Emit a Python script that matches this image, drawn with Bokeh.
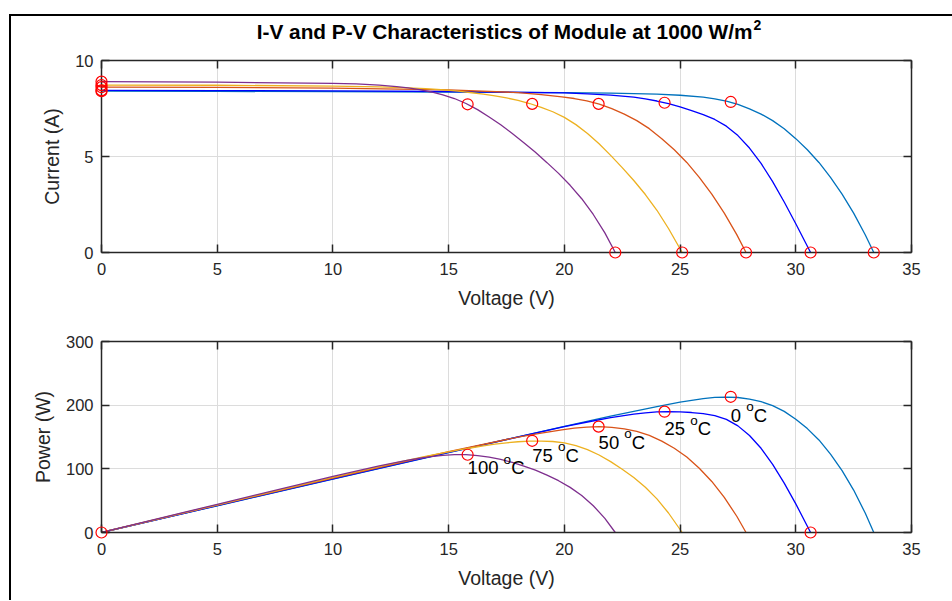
from bokeh.plotting import figure
from bokeh.models import Range1d, FixedTicker, LinearAxis, ColumnDataSource
from bokeh.layouts import column
from bokeh.embed import file_html
from bokeh.resources import INLINE
from bokeh.core.properties import value

# ---------------- data ----------------
temps = ["0", "25", "50", "75", "100"]
colors = ["#0072BD", "#0000FF", "#D95319", "#EDB120", "#7E2F8E"]

v_t0 = [0, 5, 10, 15, 20, 22, 24, 25, 26, 26.5, 27, 27.5, 28, 28.5, 29, 29.5, 30, 30.5,
        31, 31.5, 32, 32.5, 33, 33.37]
i_t0 = [8.40, 8.39, 8.38, 8.36, 8.33, 8.305, 8.245, 8.19, 8.09, 8.005, 7.88, 7.71, 7.48,
        7.21, 6.87, 6.45, 5.93, 5.35, 4.69, 3.91, 3.04, 2.05, 0.925, 0.0]

v_t25 = [0, 5, 10, 15, 20, 21, 22, 23, 23.5, 24, 24.5, 25, 25.5, 26, 26.5, 27, 27.5, 28,
         28.5, 29, 29.5, 30, 30.64]
i_t25 = [8.445, 8.435, 8.415, 8.385, 8.31, 8.265, 8.20, 8.09, 8.00, 7.89, 7.75, 7.58,
         7.39, 7.18, 6.93, 6.58, 6.09, 5.44, 4.64, 3.69, 2.63, 1.50, 0.0]

v_t50 = [0, 5, 10, 15, 18, 19, 19.89, 20.43, 20.97, 21.51, 22.05, 22.59, 23.13, 23.67,
         24.21, 24.75, 25.29, 25.83, 26.37, 26.91, 27.45, 27.85]
i_t50 = [8.61, 8.60, 8.56, 8.47, 8.33, 8.22, 8.11, 8.02, 7.90, 7.73, 7.49, 7.21, 6.87, 6.45,
         5.93, 5.35, 4.69, 3.91, 3.04, 2.05, 0.93, 0.0]

v_t75 = [0, 5, 10, 12, 13, 14, 15, 15.5, 16, 16.5, 17, 17.5, 18, 18.5, 19, 19.5, 20, 20.5,
         21, 21.5, 22, 22.5, 23, 23.5, 24, 24.5, 25.09]
i_t75 = [8.72, 8.71, 8.67, 8.63, 8.59, 8.53, 8.45, 8.39, 8.32, 8.25, 8.16, 8.05, 7.92, 7.76,
         7.56, 7.33, 7.04, 6.66, 6.20, 5.66, 5.06, 4.42, 3.75, 3.02, 2.20, 1.25, 0.0]

v_t100 = [0, 5, 10, 11, 12, 12.75, 13.25, 13.75, 14.25, 14.75, 15.25, 15.75, 16.25, 16.75,
          17.25, 17.75, 18.25, 18.75, 19.25, 19.75, 20.25, 20.75, 21.25, 21.75, 22.2]
i_t100 = [8.90, 8.87, 8.81, 8.78, 8.72, 8.64, 8.57, 8.48, 8.36, 8.21, 8.02, 7.76, 7.44, 7.06,
          6.65, 6.20, 5.72, 5.22, 4.68, 4.12, 3.50, 2.80, 1.98, 1.02, 0.0]

# maximum power points
v_mpp = [27.19, 24.33, 21.48, 18.61, 15.82]
i_mpp = [7.84, 7.80, 7.74, 7.74, 7.72]

x_ticks = [0, 5, 10, 15, 20, 25, 30, 35]
i_ticks = [0, 5, 10]
p_ticks = [0, 100, 200, 300]

title_main = "I-V and P-V Characteristics of Module at 1000 W/m"
title_sup = "2"

curves_v = [v_t0, v_t25, v_t50, v_t75, v_t100]
curves_i = [i_t0, i_t25, i_t50, i_t75, i_t100]

FONT = "Liberation Sans"
AX = "#262626"
GRID = "#dcdcdc"


def make_fig(height, top, bottom, yr, yticks, ylabel):
    p = figure(width=941, height=height, x_range=Range1d(0, 35), y_range=Range1d(*yr),
               output_backend="svg", toolbar_location=None, title=None,
               min_border_left=90, min_border_right=41,
               min_border_top=top, min_border_bottom=bottom)
    p.outline_line_color = None
    p.background_fill_color = "white"
    p.border_fill_color = "white"
    p.xaxis.ticker = FixedTicker(ticks=x_ticks)
    p.yaxis.ticker = FixedTicker(ticks=yticks)
    p.xaxis.axis_label = "Voltage (V)"
    p.yaxis.axis_label = ylabel
    for ax in p.xaxis + p.yaxis:
        ax.axis_line_color = AX
        ax.axis_line_width = 1.5
        ax.major_tick_line_color = AX
        ax.major_tick_line_width = 1.5
        ax.major_tick_in = 8
        ax.major_tick_out = 0
        ax.minor_tick_line_color = None
        ax.major_label_text_font = FONT
        ax.major_label_text_font_size = "16.5px"
        ax.major_label_text_color = AX
        ax.axis_label_text_font = FONT
        ax.axis_label_text_font_size = "19.5px"
        ax.axis_label_text_font_style = "normal"
        ax.axis_label_text_color = AX
    for ax in p.xaxis:
        ax.major_label_standoff = 10
        ax.axis_label_standoff = 9
    for ax in p.yaxis:
        ax.major_label_standoff = 8
        ax.axis_label_standoff = 9
    p.xgrid.ticker = FixedTicker(ticks=x_ticks)
    p.ygrid.ticker = FixedTicker(ticks=yticks)
    p.xgrid.grid_line_color = GRID
    p.ygrid.grid_line_color = GRID
    p.xgrid.grid_line_width = 1
    p.ygrid.grid_line_width = 1
    # box: unlabeled axes on top and right with inward ticks
    for loc, tk in (("above", x_ticks), ("right", yticks)):
        ax = LinearAxis(ticker=FixedTicker(ticks=tk), axis_line_color=AX, axis_line_width=1.5,
                        major_tick_line_color=AX, major_tick_line_width=1.5,
                        major_tick_in=8, major_tick_out=0, minor_tick_line_color=None,
                        major_label_text_color=None, major_label_text_font_size="6px",
                        major_label_standoff=0)
        p.add_layout(ax, loc)
    return p


# ---------------- I-V plot ----------------
p1 = make_fig(304, 44, 68, (0, 10), i_ticks, "Current (A)")
for v, i, c in zip(curves_v, curves_i, colors):
    p1.line(v, i, line_color=c, line_width=1.3)
mk_v = [v[0] for v in curves_v] + v_mpp + [v[-1] for v in curves_v]
mk_i = [i[0] for i in curves_i] + i_mpp + [i[-1] for i in curves_i]
p1.scatter(mk_v, mk_i, marker="circle", size=11, fill_color=None, line_color="#FF0000",
           line_width=1.2, level="overlay")

# title (drawn as text above the frame)
p1.text(x=[28.13], y=[11.52], text=[title_main], text_align="right",
        text_baseline="alphabetic", text_font=value(FONT), text_font_style="bold",
        text_font_size="20.8px", text_color="#000000", level="overlay")
p1.text(x=[28.17], y=[11.84], text=[title_sup], text_align="left",
        text_baseline="alphabetic", text_font=value(FONT), text_font_style="bold",
        text_font_size="14px", text_color="#000000", level="overlay")

# ---------------- P-V plot ----------------
p2 = make_fig(280, 21, 68, (0, 300), p_ticks, "Power (W)")
for v, i, c in zip(curves_v, curves_i, colors):
    p2.line(v, [a * b for a, b in zip(v, i)], line_color=c, line_width=1.3)
p_mpp = [a * b for a, b in zip(v_mpp, i_mpp)]
pm_v = [0] + v_mpp + [v_t25[-1]]
pm_p = [0] + p_mpp + [0]
p2.scatter(pm_v, pm_p, marker="circle", size=11, fill_color=None, line_color="#FF0000",
           line_width=1.2, level="overlay")

FS = 18.5
FS_SUP = 13.5
num_txt = [t + " " for t in temps]
off_o = [(0.556 * len(t) + 0.278) * FS for t in temps]
off_c = [o + 0.556 * FS_SUP for o in off_o]
lab_y = [0.9 * pp - 8 for pp in p_mpp]
src = ColumnDataSource(dict(x=v_mpp, y=lab_y, num=num_txt, oo=off_o, oc=off_c,
                            sup=["o"] * 5, c=["C"] * 5))
p2.text(x="x", y="y", text="num", source=src, text_font=value(FONT), text_font_size=f"{FS}px",
        text_baseline="alphabetic", text_align="left", text_color="#000000")
p2.text(x="x", y="y", text="sup", source=src, x_offset="oo", y_offset=-8.5, text_font=value(FONT),
        text_font_size=f"{FS_SUP}px", text_baseline="alphabetic", text_align="left",
        text_color="#000000")
p2.text(x="x", y="y", text="c", source=src, x_offset="oc", text_font=value(FONT),
        text_font_size=f"{FS}px", text_baseline="alphabetic", text_align="left",
        text_color="#000000")

layout = column(p1, p2, spacing=0,
                styles={"border-left": "2px solid #000000", "border-top": "2px solid #000000",
                        "margin-left": "9px", "margin-top": "14px"})

open("out.html", "w").write(file_html(layout, INLINE))
